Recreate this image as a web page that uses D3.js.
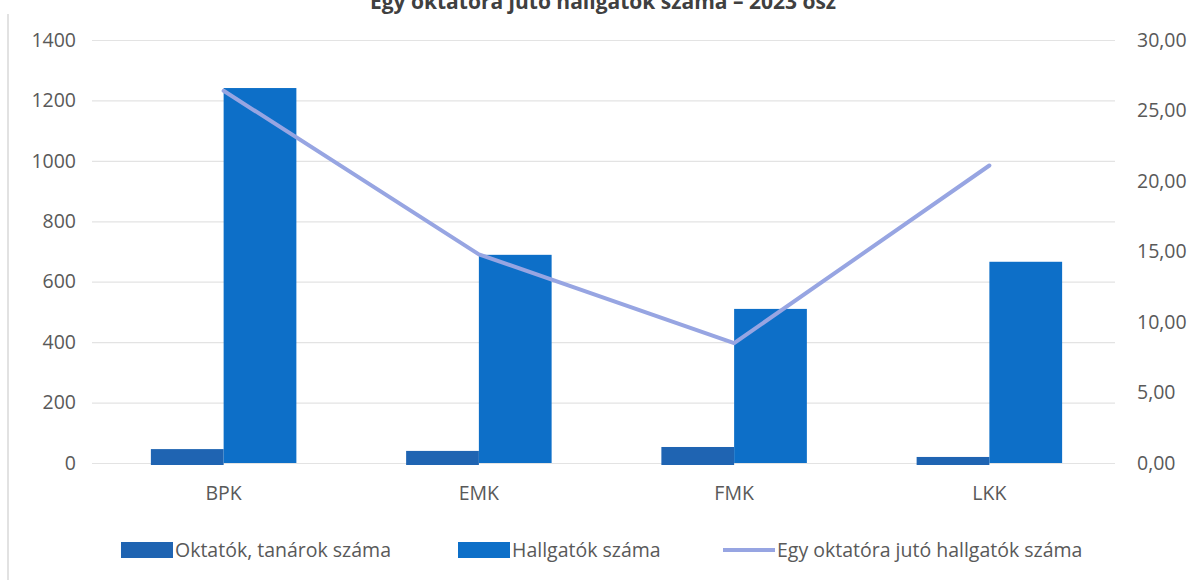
<!DOCTYPE html>
<html><head><meta charset="utf-8">
<script src="https://cdn.jsdelivr.net/npm/d3@7"></script>
<style>html,body{margin:0;padding:0;background:#fff;}svg{display:block;}</style>
</head><body>
<svg id="chart" width="1200" height="580"></svg>
<script>
const title = "Egy oktatóra jutó hallgatók száma – 2023 ősz";
const categories = ["BPK", "EMK", "FMK", "LKK"];
const seriesNames = ["Oktatók, tanárok száma", "Hallgatók száma", "Egy oktatóra jutó hallgatók száma"];
const oktatok = [46, 40, 53, 20];
const hallgatok = [1241, 689, 510, 666];
const arany = [26.4, 14.8, 8.5, 21.1];
const leftTicks = [0, 200, 400, 600, 800, 1000, 1200, 1400];
const rightTicks = [0, 5, 10, 15, 20, 25, 30];

const svg = d3.select("#chart");
const W = 1200, H = 580;
const m = {left: 96, right: 1117, top: 40, bottom: 463};
const font = "'Open Sans', sans-serif";
const textCol = "#595959";
const colOkt = "#1f64b2";
const colHal = "#0d6fc8";
const colLine = "#97a5e2";
const fs = 19.5;

svg.append("rect").attr("width", W).attr("height", H).attr("fill", "#fff");
// frame edge
svg.append("line").attr("x1", 8).attr("x2", 8).attr("y1", 14).attr("y2", H)
  .attr("stroke", "#e2e2e2").attr("stroke-width", 2);

const x0 = d3.scaleBand().domain(categories).range([m.left, m.right]).paddingInner(0.43).paddingOuter(0.215);
const x1 = d3.scaleBand().domain([0, 1]).range([0, x0.bandwidth()]);
const yL = d3.scaleLinear().domain([0, 1400]).range([m.bottom, m.top]);
const yR = d3.scaleLinear().domain([0, 30]).range([m.bottom, m.top]);

// gridlines
const gridAxis = d3.axisLeft(yL).tickValues(leftTicks).tickSize(-(m.right - m.left)).tickFormat("");
const g = svg.append("g").attr("transform", `translate(${m.left - 4},0)`).call(gridAxis);
g.select(".domain").remove();
g.selectAll("line").attr("stroke", "#e3e3e3").attr("stroke-width", 1.2).attr("x2", m.right - m.left + 2);

// left axis labels
const la = svg.append("g").attr("transform", `translate(${m.left - 20},0)`)
  .call(d3.axisLeft(yL).tickValues(leftTicks).tickSize(0).tickPadding(0).tickFormat(d3.format("d")));
la.select(".domain").remove();
la.selectAll("text").attr("font-family", font).attr("font-size", fs).attr("fill", textCol);

// right axis labels
const fmtR = v => d3.format(".2f")(v).replace(".", ",");
const ra = svg.append("g").attr("transform", `translate(${m.right + 20},0)`)
  .call(d3.axisRight(yR).tickValues(rightTicks).tickSize(0).tickPadding(0).tickFormat(fmtR));
ra.select(".domain").remove();
ra.selectAll("text").attr("font-family", font).attr("font-size", fs).attr("fill", textCol);

// bars
const groups = svg.append("g").selectAll("g").data(categories).join("g")
  .attr("transform", d => `translate(${x0(d)},0)`);
groups.append("rect")
  .attr("x", x1(0)).attr("width", x1.bandwidth())
  .attr("y", (d, i) => yL(oktatok[i])).attr("height", (d, i) => yL(0) - yL(oktatok[i]) + 2)
  .attr("fill", colOkt);
groups.append("rect")
  .attr("x", x1(1)).attr("width", x1.bandwidth())
  .attr("y", (d, i) => yL(hallgatok[i])).attr("height", (d, i) => yL(0) - yL(hallgatok[i]))
  .attr("fill", colHal);

// line
const cx = d => x0(d) + x0.bandwidth() / 2;
const line = d3.line().x((d, i) => cx(categories[i])).y(d => yR(d));
svg.append("path").datum(arany).attr("d", line)
  .attr("fill", "none").attr("stroke", colLine).attr("stroke-width", 4)
  .attr("stroke-linejoin", "round").attr("stroke-linecap", "round");

// x axis labels
const xa = svg.append("g").attr("transform", `translate(0,${m.bottom + 16})`)
  .call(d3.axisBottom(x0).tickSize(0).tickPadding(4));
xa.select(".domain").remove();
xa.selectAll("text").attr("font-family", font).attr("font-size", fs).attr("fill", textCol).attr("dy", "0.85em");

// title
svg.append("text").attr("x", 603).attr("y", 9).attr("text-anchor", "middle")
  .attr("font-family", font).attr("font-weight", "bold").attr("font-size", 21).attr("fill", "#404040")
  .text(title);

// legend
const legendItems = [
  {name: seriesNames[0], type: "rect", color: colOkt, x: 121},
  {name: seriesNames[1], type: "rect", color: colHal, x: 458},
  {name: seriesNames[2], type: "line", color: colLine, x: 723}
];
const ly = 550;
const lg = svg.append("g").selectAll("g").data(legendItems).join("g")
  .attr("transform", d => `translate(${d.x},${ly})`);
lg.filter(d => d.type === "rect").append("rect")
  .attr("x", 0).attr("y", -8).attr("width", 52).attr("height", 16).attr("fill", d => d.color);
lg.filter(d => d.type === "line").append("line")
  .attr("x1", 0).attr("x2", 52).attr("y1", 0).attr("y2", 0)
  .attr("stroke", d => d.color).attr("stroke-width", 4);
lg.append("text").attr("x", 54).attr("y", 0).attr("dy", "0.35em")
  .attr("font-family", font).attr("font-size", fs).attr("fill", textCol)
  .text(d => d.name);
</script>
</body></html>
